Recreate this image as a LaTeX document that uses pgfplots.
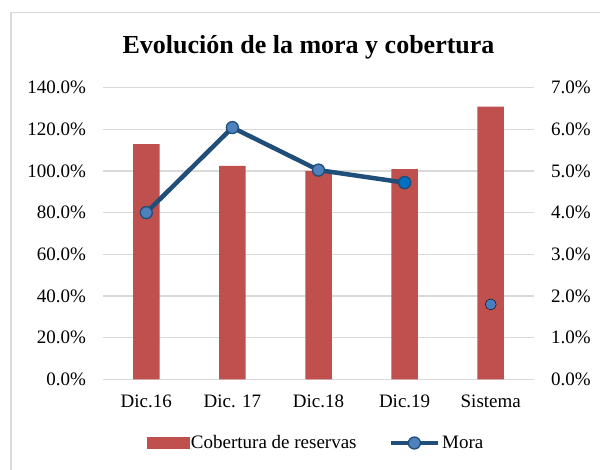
\documentclass[border=0pt]{standalone}
\usepackage{pgfplots}
\pgfplotsset{compat=1.18}
\usepackage{fontspec}
\setmainfont{Liberation Serif}
\definecolor{barred}{HTML}{C0504D}
\definecolor{lineblue}{HTML}{1F4E79}
\definecolor{markblue}{HTML}{4F81BD}
\definecolor{markdark}{HTML}{0070C0}
\definecolor{sisblue}{HTML}{4A7EC0}
\definecolor{gridgray}{HTML}{D9D9D9}
\pgfplotsset{mylinelegend/.style={legend image code/.code={\draw[mark repeat=2,mark phase=2,##1] plot coordinates {(0pt,0pt) (23.5pt,0pt) (47pt,0pt)};}}}
\begin{document}
\begin{tikzpicture}
\useasboundingbox (0pt,0pt) rectangle (600pt,-470pt);
\fill[white] (0pt,0pt) rectangle (600pt,-470pt);
\draw[gridgray, line width=1.6pt] (11pt,-12.7pt) rectangle (640pt,-500pt);
\node[anchor=base, font=\fontsize{26}{30}\selectfont\bfseries] at (308.5pt,-54pt) {Evolución de la mora y cobertura};
\begin{axis}[
  at={(103.2pt,-379.5pt)}, anchor=south west,
  scale only axis, width=430.6pt, height=292pt,
  xmin=-0.5, xmax=4.5, ymin=0, ymax=140,
  xtick={0,1,2,3,4},
  xticklabels={Dic.16, Dic. 17, Dic.18, Dic.19, Sistema},
  ytick={0,20,...,140},
  yticklabel={\pgfmathprintnumber[fixed,fixed zerofill,precision=1]{\tick}\%},
  /pgf/number format/assume math mode=true,
  ticklabel style={font=\fontsize{19}{22}\selectfont, inner sep=0pt},
  yticklabel style={anchor=east, xshift=-17pt},
  xticklabel style={anchor=north, yshift=-15pt},
  major tick length=0pt,
  axis line style={draw=none},
  ymajorgrids, major grid style={gridgray, line width=1.4pt},
  axis y line*=left, axis x line*=bottom,
]
\addplot[ybar, bar width=26.5pt, fill=barred, draw=none] coordinates {(0,112.8) (1,102.4) (2,100.0) (3,100.9) (4,130.8)};
\end{axis}
\begin{axis}[
  at={(103.2pt,-379.5pt)}, anchor=south west,
  scale only axis, width=430.6pt, height=292pt,
  xmin=-0.5, xmax=4.5, ymin=0, ymax=7,
  xtick=\empty,
  ytick={0,1,...,7},
  yticklabel={\pgfmathprintnumber[fixed,fixed zerofill,precision=1]{\tick}\%},
  /pgf/number format/assume math mode=true,
  ticklabel style={font=\fontsize{19}{22}\selectfont, inner sep=0pt},
  yticklabel style={anchor=west, xshift=17pt},
  major tick length=0pt,
  axis line style={draw=none},
  axis y line*=right, axis x line=none,
  legend columns=2,
  legend style={at={(0.494,-0.2175)}, anchor=center, draw=none, fill=none,
    font=\fontsize{19}{22}\selectfont, inner sep=0pt,
    nodes={inner sep=2pt},
    /tikz/every even column/.append style={column sep=30pt}},
]
\addlegendimage{legend image code/.code={\fill[barred] (0pt,-5.5pt) rectangle (42pt,5.5pt);}}
\addlegendentry{Cobertura de reservas}
\addplot[lineblue, line width=4.5pt, mark=*, mark size=6pt,
  mark options={fill=markblue, draw=lineblue, line width=1.3pt},
  mylinelegend]
  coordinates {(0,4.00) (1,6.04) (2,5.02) (3,4.72)};
\addlegendentry{Mora}
\addplot[only marks, mark=*, mark size=6pt, mark options={fill=markdark, draw=lineblue, line width=1.3pt}, forget plot] coordinates {(3,4.72)};
\addplot[only marks, mark=*, mark size=5.5pt, mark options={fill=sisblue, draw=none}, forget plot] coordinates {(4,1.80)};
\end{axis}
\end{tikzpicture}
\end{document}
